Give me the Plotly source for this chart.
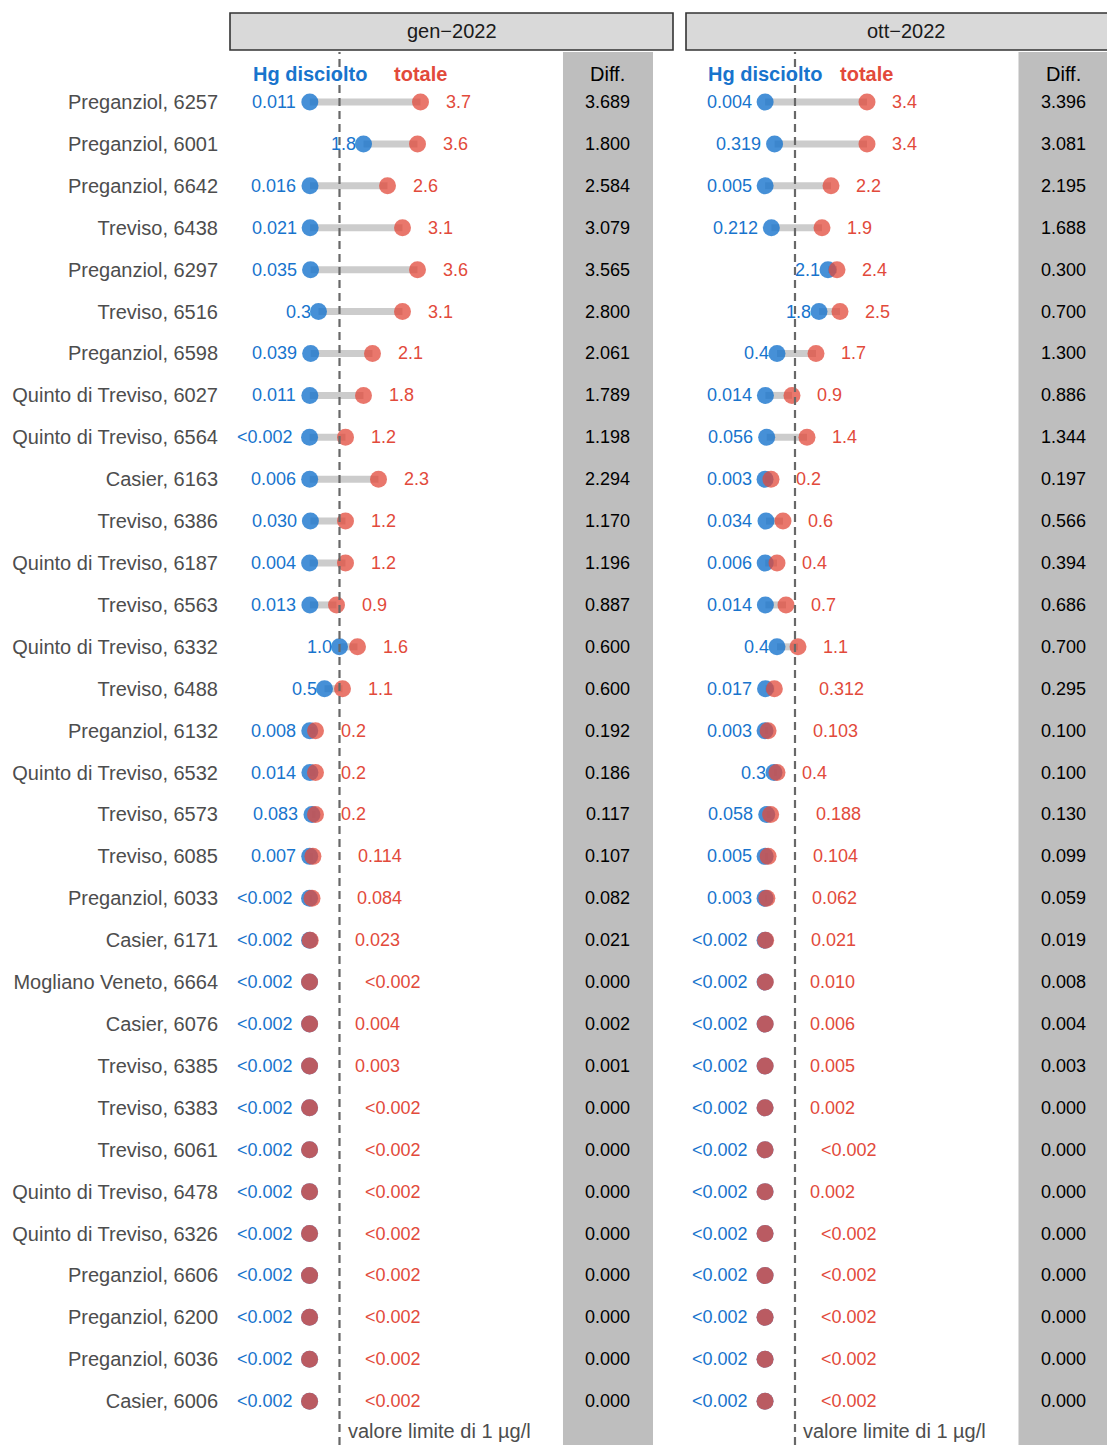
import plotly.graph_objects as go

# ---------------- data ----------------
locations = [
    "Preganziol, 6257", "Preganziol, 6001", "Preganziol, 6642", "Treviso, 6438",
    "Preganziol, 6297", "Treviso, 6516", "Preganziol, 6598", "Quinto di Treviso, 6027",
    "Quinto di Treviso, 6564", "Casier, 6163", "Treviso, 6386", "Quinto di Treviso, 6187",
    "Treviso, 6563", "Quinto di Treviso, 6332", "Treviso, 6488", "Preganziol, 6132",
    "Quinto di Treviso, 6532", "Treviso, 6573", "Treviso, 6085", "Preganziol, 6033",
    "Casier, 6171", "Mogliano Veneto, 6664", "Casier, 6076", "Treviso, 6385",
    "Treviso, 6383", "Treviso, 6061", "Quinto di Treviso, 6478", "Quinto di Treviso, 6326",
    "Preganziol, 6606", "Preganziol, 6200", "Preganziol, 6036", "Casier, 6006",
]

gen_disciolto = [
    "0.011", "1.8", "0.016", "0.021", "0.035", "0.3", "0.039", "0.011",
    "<0.002", "0.006", "0.030", "0.004", "0.013", "1.0", "0.5", "0.008",
    "0.014", "0.083", "0.007", "<0.002", "<0.002", "<0.002", "<0.002", "<0.002",
    "<0.002", "<0.002", "<0.002", "<0.002", "<0.002", "<0.002", "<0.002", "<0.002",
]
gen_totale = [
    "3.7", "3.6", "2.6", "3.1", "3.6", "3.1", "2.1", "1.8",
    "1.2", "2.3", "1.2", "1.2", "0.9", "1.6", "1.1", "0.2",
    "0.2", "0.2", "0.114", "0.084", "0.023", "<0.002", "0.004", "0.003",
    "<0.002", "<0.002", "<0.002", "<0.002", "<0.002", "<0.002", "<0.002", "<0.002",
]
ott_disciolto = [
    "0.004", "0.319", "0.005", "0.212", "2.1", "1.8", "0.4", "0.014",
    "0.056", "0.003", "0.034", "0.006", "0.014", "0.4", "0.017", "0.003",
    "0.3", "0.058", "0.005", "0.003", "<0.002", "<0.002", "<0.002", "<0.002",
    "<0.002", "<0.002", "<0.002", "<0.002", "<0.002", "<0.002", "<0.002", "<0.002",
]
ott_totale = [
    "3.4", "3.4", "2.2", "1.9", "2.4", "2.5", "1.7", "0.9",
    "1.4", "0.2", "0.6", "0.4", "0.7", "1.1", "0.312", "0.103",
    "0.4", "0.188", "0.104", "0.062", "0.021", "0.010", "0.006", "0.005",
    "0.002", "<0.002", "0.002", "<0.002", "<0.002", "<0.002", "<0.002", "<0.002",
]
panel_titles = ["gen\u22122022", "ott\u22122022"]
limit_value = 1.0
limit_label = "valore limite di 1 \u00b5g/l"

# ---------------- styling ----------------
OFF = 8                      # page body margin of the browser
W, H = 1115 - OFF, 1445 - OFF
FONT = "Liberation Sans, Arial, sans-serif"
BLUE_TXT = "#1874CD"
RED_TXT = "#E24A3B"
BLUE_PT = "rgba(24,116,205,0.8)"
RED_PT = "rgba(226,74,59,0.75)"
SEG = "#CCCCCC"
COLBG = "#BEBEBE"
VAL_SIZE = 18
TXT_SIZE = 20
DIFF_X = 9.95
DIFF_HALF = 1.5


def fx(p):
    return (p - OFF) / W


def fy(p):
    return 1 - (p - OFF) / H


def parse(s):
    return float(s.replace("<", ""))


CW = {".": 0.278, "<": 0.584}


def text_w(s, size):
    return sum(CW.get(c, 0.556) for c in s) * size


n = len(locations)
rows = list(range(n))

fig = go.Figure()
annotations = []
shapes = []

panels = [
    (gen_disciolto, gen_totale, "x", "y", [fx(230), fx(673)], [-2.65, 12.117], 230, 673),
    (ott_disciolto, ott_totale, "x2", "y2", [fx(686), 1.0], [-2.633, 11.667], 686, 1125),
]

for p, (dis, tot, xa, ya, dom, rng, px0, px1) in enumerate(panels):
    dv = [parse(s) for s in dis]
    tv = [parse(s) for s in tot]
    segx, segy = [], []
    for i in rows:
        segx += [dv[i], tv[i], None]
        segy += [i, i, None]
    fig.add_trace(go.Scatter(x=segx, y=segy, mode="lines", xaxis=xa, yaxis=ya,
                             line=dict(color=SEG, width=7), hoverinfo="skip", showlegend=False))
    fig.add_trace(go.Scatter(x=dv, y=rows, mode="markers", xaxis=xa, yaxis=ya,
                             marker=dict(color=BLUE_PT, size=17, line=dict(width=0)),
                             name="Hg disciolto", showlegend=False))
    fig.add_trace(go.Scatter(x=tv, y=rows, mode="markers", xaxis=xa, yaxis=ya,
                             marker=dict(color=RED_PT, size=17, line=dict(width=0)),
                             name="totale", showlegend=False))

    for i in rows:
        wb = text_w(dis[i], VAL_SIZE)
        annotations.append(dict(x=dv[i], y=i, xref=xa, yref=ya, text=dis[i], showarrow=False,
                                xanchor="right", yanchor="middle", xshift=-0.3 * wb,
                                borderpad=0, borderwidth=0,
                                font=dict(family=FONT, size=VAL_SIZE, color=BLUE_TXT)))
        wr = text_w(tot[i], VAL_SIZE)
        annotations.append(dict(x=tv[i], y=i, xref=xa, yref=ya, text=tot[i], showarrow=False,
                                xanchor="left", yanchor="middle", xshift=wr,
                                borderpad=0, borderwidth=0,
                                font=dict(family=FONT, size=VAL_SIZE, color=RED_TXT)))
        annotations.append(dict(x=DIFF_X, y=i, xref=xa, yref=ya, text="%.3f" % (tv[i] - dv[i]),
                                showarrow=False, xanchor="center", yanchor="middle",
                                borderpad=0, borderwidth=0,
                                font=dict(family=FONT, size=VAL_SIZE, color="#000000")))

    hy = -0.67
    annotations.append(dict(x=dv[0], y=hy, xref=xa, yref=ya, text="<b>Hg disciolto</b>",
                            showarrow=False, xanchor="center", yanchor="middle",
                            font=dict(family=FONT, size=TXT_SIZE, color=BLUE_TXT)))
    annotations.append(dict(x=tv[0], y=hy, xref=xa, yref=ya, text="<b>totale</b>",
                            showarrow=False, xanchor="center", yanchor="middle",
                            font=dict(family=FONT, size=TXT_SIZE, color=RED_TXT)))
    annotations.append(dict(x=DIFF_X, y=hy, xref=xa, yref=ya, text="Diff.",
                            showarrow=False, xanchor="center", yanchor="middle",
                            font=dict(family=FONT, size=TXT_SIZE, color="#000000")))
    annotations.append(dict(x=limit_value, y=31.72, xref=xa, yref=ya, text=limit_label,
                            showarrow=False, xanchor="left", yanchor="middle", xshift=6,
                            font=dict(family=FONT, size=TXT_SIZE, color="#4D4D4D")))

    shapes.append(dict(type="rect", xref=xa, yref=ya + " domain", x0=DIFF_X - DIFF_HALF,
                       x1=DIFF_X + DIFF_HALF, y0=0, y1=1, fillcolor=COLBG,
                       line=dict(width=0), layer="below"))
    shapes.append(dict(type="line", xref=xa, yref=ya + " domain", x0=limit_value, x1=limit_value,
                       y0=0, y1=1, line=dict(color="#686868", width=2.2, dash="8px,5px"),
                       layer="above"))
    # strip
    shapes.append(dict(type="rect", xref="paper", yref="paper", x0=fx(px0), x1=fx(px1),
                       y0=fy(50), y1=fy(13), fillcolor="#D9D9D9",
                       line=dict(color="#333333", width=1.6), layer="above"))
    annotations.append(dict(x=fx((px0 + min(px1, 1129)) / 2), y=fy(31.5), xref="paper",
                            yref="paper", text=panel_titles[p], showarrow=False,
                            xanchor="center", yanchor="middle",
                            font=dict(family=FONT, size=TXT_SIZE, color="#1A1A1A")))

yrange = [32.046, -1.194]
ydom = [0, fy(52)]
fig.update_layout(
    width=W, height=H,
    margin=dict(l=0, r=0, t=0, b=0),
    paper_bgcolor="white", plot_bgcolor="white",
    showlegend=False,
    font=dict(family=FONT),
    xaxis=dict(domain=panels[0][4], range=panels[0][5], visible=False, anchor="y"),
    xaxis2=dict(domain=panels[1][4], range=panels[1][5], visible=False, anchor="y2"),
    yaxis=dict(domain=ydom, range=yrange, anchor="x", tickmode="array", tickvals=rows,
               ticktext=locations, ticks="", showgrid=False, zeroline=False, showline=False,
               ticklabelstandoff=11,
               tickfont=dict(family=FONT, size=TXT_SIZE, color="#4D4D4D")),
    yaxis2=dict(domain=ydom, range=yrange, anchor="x2", matches="y", showticklabels=False,
                ticks="", showgrid=False, zeroline=False, showline=False),
    annotations=annotations,
    shapes=shapes,
)

fig.write_html("out.html")
